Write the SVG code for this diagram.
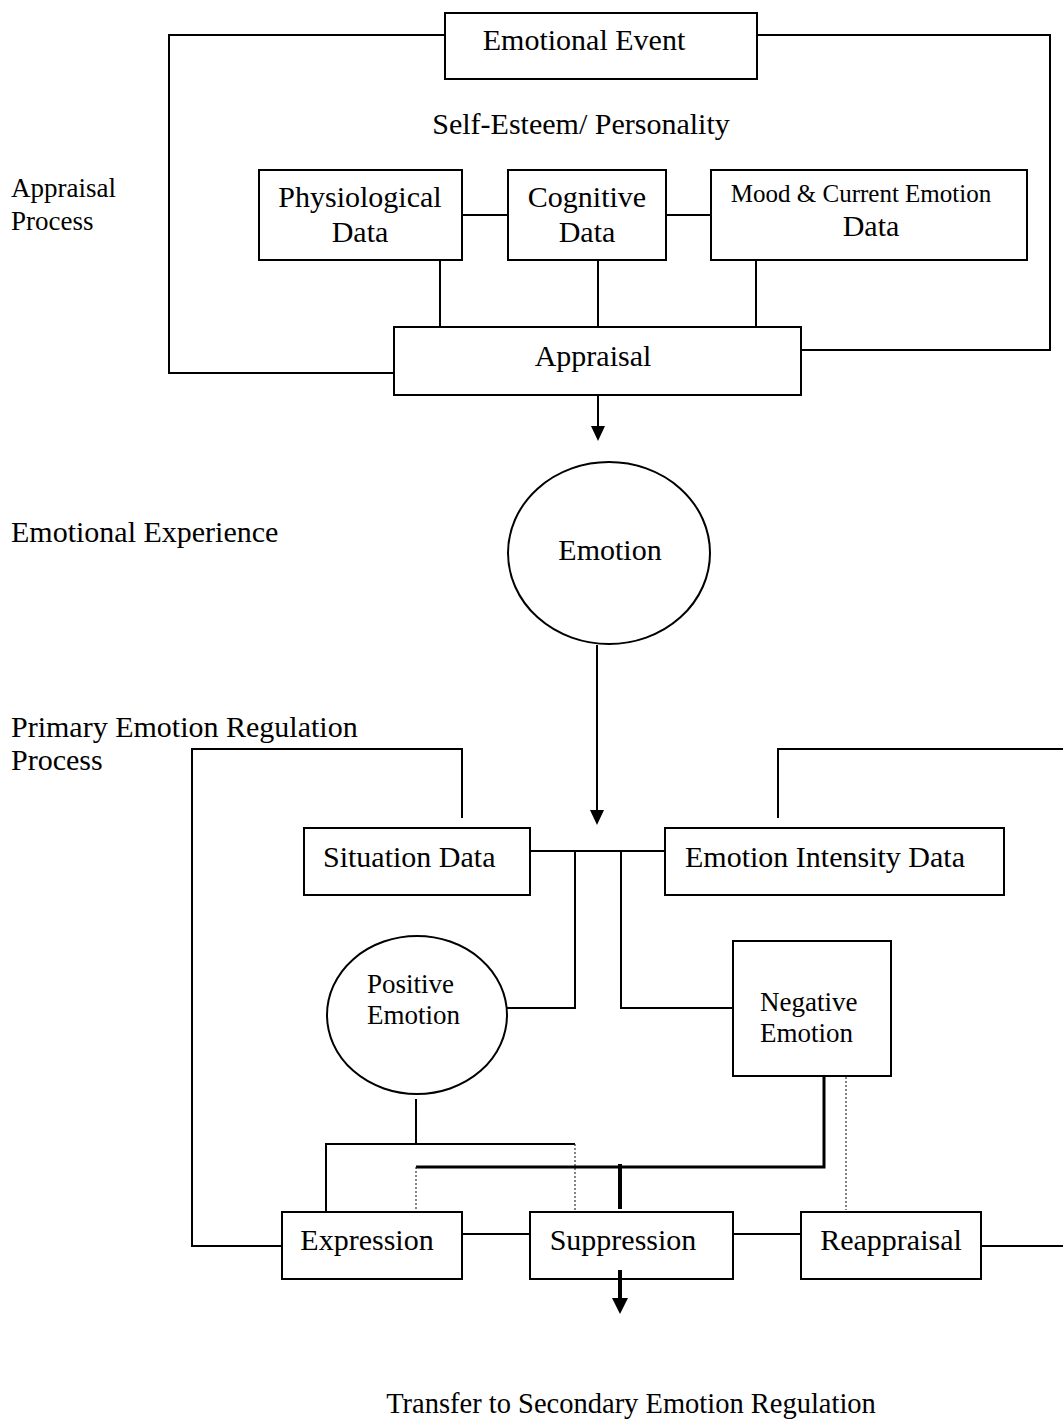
<svg xmlns="http://www.w3.org/2000/svg" width="1063" height="1421" viewBox="0 0 1063 1421">
<style>
text{font-family:"Liberation Serif","Times New Roman",serif;fill:#000}
.t30{font-size:30px}
.t28{font-size:28.5px}
.t27{font-size:27px}
.t25{font-size:25px}
.box{fill:#fff;stroke:#000;stroke-width:2}
.ln{fill:none;stroke:#000;stroke-width:2}
.thick{fill:none;stroke:#000;stroke-width:3}
.thicker{fill:none;stroke:#000;stroke-width:4}
.dot{fill:none;stroke:#333;stroke-width:1.2;stroke-dasharray:2,2}
.mid{text-anchor:middle}
</style>

<!-- section labels -->
<text class="t27" x="11" y="197">Appraisal</text>
<text class="t27" x="11" y="230">Process</text>
<text class="t30" x="11" y="542">Emotional Experience</text>
<text class="t30" x="11" y="737">Primary Emotion Regulation</text>
<text class="t30" x="11" y="770">Process</text>
<text class="t30 mid" x="581" y="134">Self-Esteem/ Personality</text>
<text class="t28 mid" x="631" y="1413">Transfer to Secondary Emotion Regulation</text>

<g id="connectors">
<!-- appraisal loops -->
<polyline class="ln" points="445,35 169,35 169,373 394,373"/>
<polyline class="ln" points="757,35 1050,35 1050,350 801,350"/>
<line class="ln" x1="462" y1="215" x2="508" y2="215"/>
<line class="ln" x1="666" y1="215" x2="711" y2="215"/>
<line class="ln" x1="440" y1="260" x2="440" y2="327"/>
<line class="ln" x1="598" y1="260" x2="598" y2="327"/>
<line class="ln" x1="756" y1="260" x2="756" y2="327"/>
<!-- appraisal to emotion -->
<line class="ln" x1="598" y1="395" x2="598" y2="426"/>
<path d="M591,426 L605,426 L598,441 Z" fill="#000"/>
<!-- emotion down -->
<line class="ln" x1="597" y1="645" x2="597" y2="810"/>
<path d="M590,810 L604,810 L597,825 Z" fill="#000"/>
<!-- situation/intensity -->
<line class="ln" x1="530" y1="851" x2="665" y2="851"/>
<polyline class="ln" points="575,851 575,1008 507,1008"/>
<polyline class="ln" points="621,851 621,1008 733,1008"/>
<!-- outer regulation loops -->
<polyline class="ln" points="462,818 462,749 192,749 192,1246 282,1246"/>
<polyline class="ln" points="778,818 778,749 1063,749"/>
<line class="ln" x1="981" y1="1246" x2="1063" y2="1246"/>
<!-- positive emotion to strategies -->
<line class="ln" x1="416" y1="1099" x2="416" y2="1144"/>
<polyline class="ln" points="326,1212 326,1144 575,1144"/>
<line class="dot" x1="575" y1="1144" x2="575" y2="1210"/>
<!-- negative emotion to strategies -->
<polyline class="thick" points="824,1076 824,1167 416,1167"/>
<line class="dot" x1="416" y1="1167" x2="416" y2="1210"/>
<line class="thicker" x1="620" y1="1164" x2="620" y2="1209"/>
<line class="dot" x1="846" y1="1077" x2="846" y2="1210"/>
<!-- strategy links -->
<line class="ln" x1="462" y1="1234" x2="530" y2="1234"/>
<line class="ln" x1="733" y1="1234" x2="801" y2="1234"/>
<!-- transfer arrow -->
<line class="thicker" x1="620" y1="1270" x2="620" y2="1299"/>
<path d="M612,1298 L628,1298 L620,1314 Z" fill="#000"/>
</g>

<g id="emotional-event">
<rect class="box" x="445" y="13" width="312" height="66"/>
<text class="t30 mid" x="584" y="50">Emotional Event</text>
</g>
<g id="physiological-data">
<rect class="box" x="259" y="170" width="203" height="90"/>
<text class="t30 mid" x="360" y="207">Physiological</text>
<text class="t30 mid" x="360" y="242">Data</text>
</g>
<g id="cognitive-data">
<rect class="box" x="508" y="170" width="158" height="90"/>
<text class="t30 mid" x="587" y="207">Cognitive</text>
<text class="t30 mid" x="587" y="242">Data</text>
</g>
<g id="mood-data">
<rect class="box" x="711" y="170" width="316" height="90"/>
<text class="t25 mid" x="861" y="202">Mood &amp; Current Emotion</text>
<text class="t30 mid" x="871" y="236">Data</text>
</g>
<g id="appraisal">
<rect class="box" x="394" y="327" width="407" height="68"/>
<text class="t30 mid" x="593" y="366">Appraisal</text>
</g>
<g id="emotion">
<ellipse class="box" cx="609" cy="553" rx="101" ry="91"/>
<text class="t30 mid" x="610" y="560">Emotion</text>
</g>
<g id="situation-data">
<rect class="box" x="304" y="828" width="226" height="67"/>
<text class="t30" x="323" y="867">Situation Data</text>
</g>
<g id="emotion-intensity-data">
<rect class="box" x="665" y="828" width="339" height="67"/>
<text class="t30" x="685" y="867">Emotion Intensity Data</text>
</g>
<g id="positive-emotion">
<ellipse class="box" cx="417" cy="1015" rx="90" ry="79"/>
<text class="t27" x="367" y="993">Positive</text>
<text class="t27" x="367" y="1024">Emotion</text>
</g>
<g id="negative-emotion">
<rect class="box" x="733" y="941" width="158" height="135"/>
<text class="t27" x="760" y="1011">Negative</text>
<text class="t27" x="760" y="1042">Emotion</text>
</g>
<g id="expression">
<rect class="box" x="282" y="1212" width="180" height="67"/>
<text class="t30 mid" x="367" y="1250">Expression</text>
</g>
<g id="suppression">
<rect class="box" x="530" y="1212" width="203" height="67"/>
<text class="t30 mid" x="623" y="1250">Suppression</text>
</g>
<g id="reappraisal">
<rect class="box" x="801" y="1212" width="180" height="67"/>
<text class="t30 mid" x="891" y="1250">Reappraisal</text>
</g>
<line class="thicker" x1="620" y1="1270" x2="620" y2="1280"/>
</svg>
